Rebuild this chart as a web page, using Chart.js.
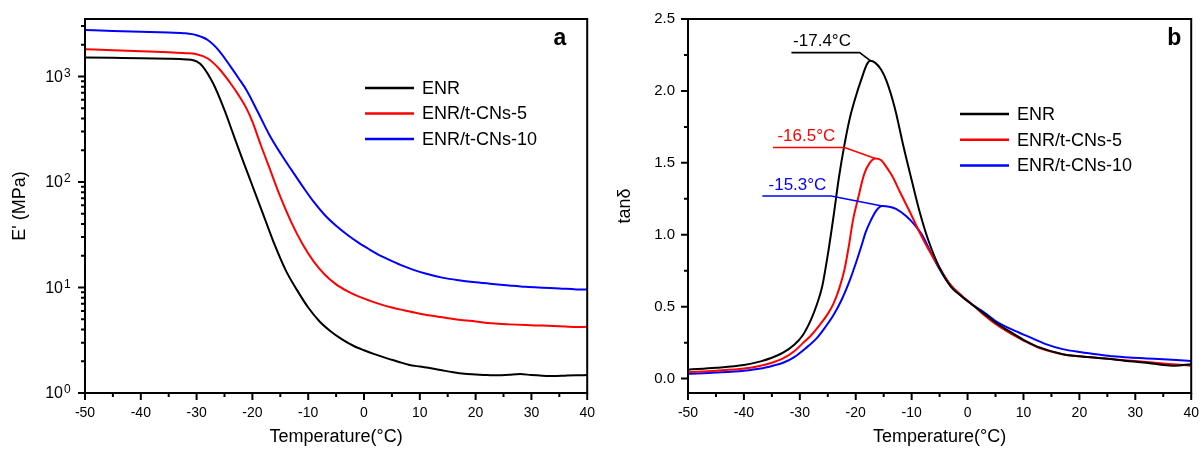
<!DOCTYPE html>
<html>
<head>
<meta charset="utf-8">
<script src="https://cdn.jsdelivr.net/npm/chart.js@4.4.1/dist/chart.umd.min.js"></script>
<style>
  html, body { margin: 0; padding: 0; background: #fff; }
  #wrap { position: relative; width: 1204px; height: 449px; overflow: hidden; }
  .panel { position: absolute; top: 0; height: 449px; }
  #pa { left: 0; width: 600px; }
  #pb { left: 600px; width: 604px; }
</style>
</head>
<body>
<div id="wrap">
  <div class="panel" id="pa"><canvas id="ca"></canvas></div>
  <div class="panel" id="pb"><canvas id="cb"></canvas></div>
</div>
<script>
// ---- series ----
const seriesNames = ['ENR', 'ENR/t-CNs-5', 'ENR/t-CNs-10'];
const seriesColors = ['#000000', '#ff0000', '#0000ff'];

// storage modulus E' (MPa) vs temperature (°C)
const modTempENR = [-50,-45,-40,-35,-33,-31,-30,-29,-27,-25,-23.5,-21.7,-20,-18,-16,-14,-12,-10,-8,-6,-4,-2,0,2,4,6,8,10,12,14,16,18,20,22,24,26,28,30,32,34,36,38,40];
const modENR     = [1510,1500,1490,1470,1460,1440,1385,1260,851,479,290,159,92,48.3,25.3,14.45,9.44,6.46,4.79,3.85,3.24,2.82,2.54,2.32,2.14,1.99,1.85,1.78,1.72,1.64,1.57,1.52,1.5,1.48,1.47,1.49,1.51,1.48,1.46,1.45,1.46,1.47,1.48];

const modTemp5 = [-50,-45,-40,-35,-32,-30,-28,-26,-24,-22.5,-21,-20,-18.5,-17,-15,-13,-11,-9,-7,-5,-3,-1,1,3,5,7,9,11,14,17,20,23,26,29,32,35,38,40];
const mod5     = [1810,1770,1730,1690,1660,1622,1479,1189,871,668,490,372,224,138,72.4,41.2,25.7,17.6,13.2,10.7,9.23,8.22,7.5,6.92,6.46,6.1,5.78,5.52,5.22,4.95,4.76,4.57,4.47,4.4,4.35,4.29,4.22,4.24];

const modTemp10 = [-50,-45,-40,-35,-32,-30,-28,-26,-24,-22.5,-21,-19,-17,-15,-13,-11,-9,-7,-5,-3,-1,1,3,5,7,9,11,14,17,20,23,26,29,32,35,38,40];
const mod10     = [2750,2700,2650,2600,2559,2455,2213,1758,1259,966,733,457,282,188,130,90.8,64.6,48.4,38.5,31.6,26.6,22.9,19.95,17.8,16.0,14.6,13.55,12.4,11.7,11.2,10.8,10.45,10.14,9.95,9.79,9.59,9.55];

// loss factor tanδ vs temperature (°C)
const tanTempENR = [-50,-45,-40,-37,-35,-33,-31,-29.5,-28,-27,-26,-25,-24,-23,-22,-21,-20,-19,-18,-17.4,-16.5,-15.5,-14.5,-13,-11.5,-10,-8.5,-7,-5,-3,-1,1,3,5,7,10,13,17,20,23,26,29,32,35,37,40];
const tanENR     = [0.062,0.075,0.095,0.12,0.145,0.18,0.235,0.30,0.41,0.51,0.64,0.86,1.12,1.40,1.63,1.82,1.96,2.08,2.185,2.21,2.195,2.15,2.07,1.88,1.62,1.38,1.15,0.96,0.77,0.64,0.57,0.51,0.45,0.39,0.34,0.27,0.215,0.17,0.155,0.145,0.135,0.12,0.11,0.095,0.09,0.10];

const tanTemp5 = [-50,-45,-40,-37,-35,-33,-31,-29.5,-28,-26.5,-25,-24,-23,-22,-21.2,-20.5,-19.6,-18.5,-17.5,-16.5,-15.5,-14.5,-13.5,-12,-10.2,-8.5,-7,-5,-3,-1,1,3,5,7,10,13,17,20,23,26,30,33,36,40];
const tan5     = [0.045,0.055,0.07,0.09,0.11,0.14,0.19,0.245,0.30,0.37,0.45,0.52,0.62,0.76,0.93,1.10,1.25,1.42,1.50,1.53,1.52,1.47,1.41,1.29,1.15,1.01,0.90,0.77,0.65,0.575,0.51,0.44,0.38,0.33,0.265,0.21,0.17,0.155,0.145,0.135,0.122,0.112,0.102,0.09];

const tanTemp10 = [-50,-45,-40,-37,-35,-33,-31,-29,-27,-25.5,-24,-22.5,-21,-20,-19,-18.2,-17.3,-16.3,-15.3,-14,-12.8,-11,-9.5,-8,-6.5,-5,-3.5,-1,1,3,5,8,11,14,17,20,23,26,29,32,35,38,40];
const tan10     = [0.033,0.042,0.055,0.07,0.088,0.11,0.15,0.21,0.28,0.355,0.44,0.55,0.69,0.80,0.92,1.02,1.10,1.17,1.20,1.195,1.18,1.13,1.07,0.99,0.87,0.76,0.67,0.57,0.51,0.46,0.40,0.34,0.29,0.24,0.205,0.185,0.17,0.155,0.146,0.14,0.135,0.128,0.123];

// tan δ peaks (glass transition)
const peakTemps  = [-17.4, -16.5, -15.3];
const peakValues = [2.21, 1.53, 1.20];
const peakLabels = ['-17.4°C', '-16.5°C', '-15.3°C'];

// ---- tick labels ----
const tempTicks = [-50, -40, -30, -20, -10, 0, 10, 20, 30, 40];
const modTickExponents = [0, 1, 2, 3];
const tanTicks = [0.0, 0.5, 1.0, 1.5, 2.0, 2.5];

// leader lines from each peak to its label (data units)
const leaderLayout = [
  { startT: -31.5, kneeT: -19.3, level: 2.266, textT: -31.2 },
  { startT: -34.8, kneeT: -22.0, level: 1.607, textT: -34.0 },
  { startT: -36.7, kneeT: -24.4, level: 1.269, textT: -35.6 }
];

const FONT = "'Liberation Sans', Arial, Helvetica, sans-serif";
Chart.defaults.font.family = FONT;
Chart.defaults.color = '#000';

function pts(xs, ys) { return xs.map((x, i) => ({ x: x, y: ys[i] })); }
function isMultiple(v, step) { const r = v / step; return Math.abs(r - Math.round(r)) < 1e-6; }

function makeDatasets(pairs) {
  return pairs.map((p, i) => ({
    label: seriesNames[i],
    data: pts(p[0], p[1]),
    borderColor: seriesColors[i],
    backgroundColor: seriesColors[i],
    borderWidth: 2,
    pointRadius: 0,
    fill: false,
    cubicInterpolationMode: 'monotone'
  }));
}

// frame, outward tick marks, legend and panel tag
const axisMarks = {
  id: 'axisMarks',
  afterDraw(chart) {
    const o = chart.options.plugins.axisMarks;
    const { ctx, chartArea: a } = chart;
    const xs = chart.scales.x, ys = chart.scales.y;
    ctx.save();
    ctx.strokeStyle = '#000';
    ctx.lineWidth = 2;
    ctx.beginPath();
    for (let i = 0; ; i++) {
      const v = xs.min + i * o.xMinor;
      if (v > xs.max + 1e-9) break;
      const px = xs.getPixelForValue(v);
      ctx.moveTo(px, a.bottom);
      ctx.lineTo(px, a.bottom + (isMultiple(v, o.xMajor) ? 7 : 4));
    }
    if (o.log) {
      for (let e = o.logFrom; e <= o.logTo; e++) {
        for (let m = 1; m < 10; m++) {
          const v = m * Math.pow(10, e);
          if (v < ys.min - 1e-9 || v > ys.max + 1e-9) continue;
          const py = ys.getPixelForValue(v);
          ctx.moveTo(a.left, py);
          ctx.lineTo(a.left - (m === 1 ? 7 : 4), py);
        }
      }
    } else {
      for (let i = 0; ; i++) {
        const v = o.yFrom + i * o.yMinor;
        if (v > ys.max + 1e-9) break;
        const py = ys.getPixelForValue(v);
        ctx.moveTo(a.left, py);
        ctx.lineTo(a.left - (isMultiple(v, o.yMajor) ? 7 : 4), py);
      }
    }
    ctx.stroke();
    ctx.strokeRect(a.left, a.top, a.right - a.left, a.bottom - a.top);

    // decade labels 10^n on the log axis
    if (o.log) {
      ctx.fillStyle = '#000';
      modTickExponents.forEach(e => {
        const py = ys.getPixelForValue(Math.pow(10, e));
        ctx.font = '16px ' + FONT;
        ctx.textAlign = 'right';
        ctx.textBaseline = 'middle';
        ctx.fillText('10', a.left - 22, py + 1);
        ctx.font = '12px ' + FONT;
        ctx.textAlign = 'left';
        ctx.textBaseline = 'top';
        ctx.fillText(String(e), a.left - 21, py - 9);
      });
    }

    // legend
    ctx.font = '18px ' + FONT;
    ctx.textAlign = 'left';
    ctx.textBaseline = 'middle';
    chart.data.datasets.forEach((ds, i) => {
      const y = a.top + o.legendY + i * o.legendGap;
      const x = a.left + o.legendX;
      ctx.strokeStyle = ds.borderColor;
      ctx.lineWidth = 2.5;
      ctx.beginPath();
      ctx.moveTo(x, y);
      ctx.lineTo(x + 49, y);
      ctx.stroke();
      ctx.fillStyle = '#000';
      ctx.fillText(ds.label, x + 57, y + 1);
    });

    // panel tag
    ctx.font = 'bold 23px ' + FONT;
    ctx.textAlign = 'right';
    ctx.textBaseline = 'middle';
    ctx.fillStyle = '#000';
    ctx.fillText(o.tag, a.right - o.tagRight, a.top + 20);
    ctx.restore();
  }
};

// leader lines and temperature labels at the tan δ peaks
const peakMarks = {
  id: 'peakMarks',
  afterDatasetsDraw(chart) {
    const { ctx } = chart;
    const xs = chart.scales.x, ys = chart.scales.y;
    ctx.save();
    ctx.lineWidth = 1.6;
    ctx.font = '17px ' + FONT;
    ctx.textAlign = 'left';
    ctx.textBaseline = 'alphabetic';
    leaderLayout.forEach((L, i) => {
      const yLine = ys.getPixelForValue(L.level);
      ctx.strokeStyle = seriesColors[i];
      ctx.beginPath();
      ctx.moveTo(xs.getPixelForValue(L.startT), yLine);
      ctx.lineTo(xs.getPixelForValue(L.kneeT), yLine);
      ctx.lineTo(xs.getPixelForValue(peakTemps[i]), ys.getPixelForValue(peakValues[i]));
      ctx.stroke();
      ctx.fillStyle = seriesColors[i];
      ctx.fillText(peakLabels[i], xs.getPixelForValue(L.textT), yLine - 6.5);
    });
    ctx.restore();
  }
};

function xScale() {
  return {
    type: 'linear', min: -50, max: 40,
    afterBuildTicks: s => { s.ticks = tempTicks.map(v => ({ value: v })); },
    afterFit: s => { s.height = 56; },
    grid: { display: false, drawTicks: true, tickLength: 7 },
    border: { display: false },
    ticks: { font: { size: 14 }, color: '#000', padding: 5, maxRotation: 0, autoSkip: false },
    title: { display: true, text: 'Temperature(°C)', font: { size: 18 }, color: '#000', padding: { top: 0, bottom: 1 } }
  };
}

// E' panel
new Chart(document.getElementById('ca'), {
  type: 'line',
  data: { datasets: makeDatasets([[modTempENR, modENR], [modTemp5, mod5], [modTemp10, mod10]]) },
  options: {
    responsive: true, maintainAspectRatio: false, animation: false, devicePixelRatio: 1,
    events: [],
    layout: { padding: { left: 4, right: 12, top: 19, bottom: 0 } },
    scales: {
      x: xScale(),
      y: {
        type: 'logarithmic', min: 1, max: 3500,
        afterFit: s => { s.width = 81; },
        grid: { display: false, drawTicks: true, tickLength: 7 },
        border: { display: false },
        ticks: { display: false },
        title: { display: true, text: "E' (MPa)", font: { size: 18 }, color: '#000', padding: { top: 5, bottom: 4 } }
      }
    },
    plugins: {
      legend: { display: false },
      tooltip: { enabled: false },
      axisMarks: { xMinor: 5, xMajor: 10, log: true, logFrom: 0, logTo: 3,
                   legendX: 280, legendY: 69, legendGap: 25.5, tag: 'a', tagRight: 21 }
    }
  },
  plugins: [axisMarks]
});

// tan δ panel
new Chart(document.getElementById('cb'), {
  type: 'line',
  data: { datasets: makeDatasets([[tanTempENR, tanENR], [tanTemp5, tan5], [tanTemp10, tan10]]) },
  options: {
    responsive: true, maintainAspectRatio: false, animation: false, devicePixelRatio: 1,
    events: [],
    layout: { padding: { left: 10, right: 7, top: 19, bottom: 0 } },
    scales: {
      x: xScale(),
      y: {
        type: 'linear', min: -0.1, max: 2.5,
        afterBuildTicks: s => { s.ticks = tanTicks.map(v => ({ value: v })); },
        afterFit: s => { s.width = 78; },
        grid: { display: false, drawTicks: true, tickLength: 7 },
        border: { display: false },
        ticks: { font: { size: 15 }, color: '#000', padding: 6, callback: v => Number(v).toFixed(1) },
        title: { display: true, text: 'tanδ', font: { size: 18 }, color: '#000', padding: { top: 4, bottom: 4 } }
      }
    },
    plugins: {
      legend: { display: false },
      tooltip: { enabled: false },
      axisMarks: { xMinor: 5, xMajor: 10, log: false, yFrom: 0, yMinor: 0.25, yMajor: 0.5,
                   legendX: 272, legendY: 95, legendGap: 25.7, tag: 'b', tagRight: 10 }
    }
  },
  plugins: [axisMarks, peakMarks]
});
</script>
</body>
</html>
